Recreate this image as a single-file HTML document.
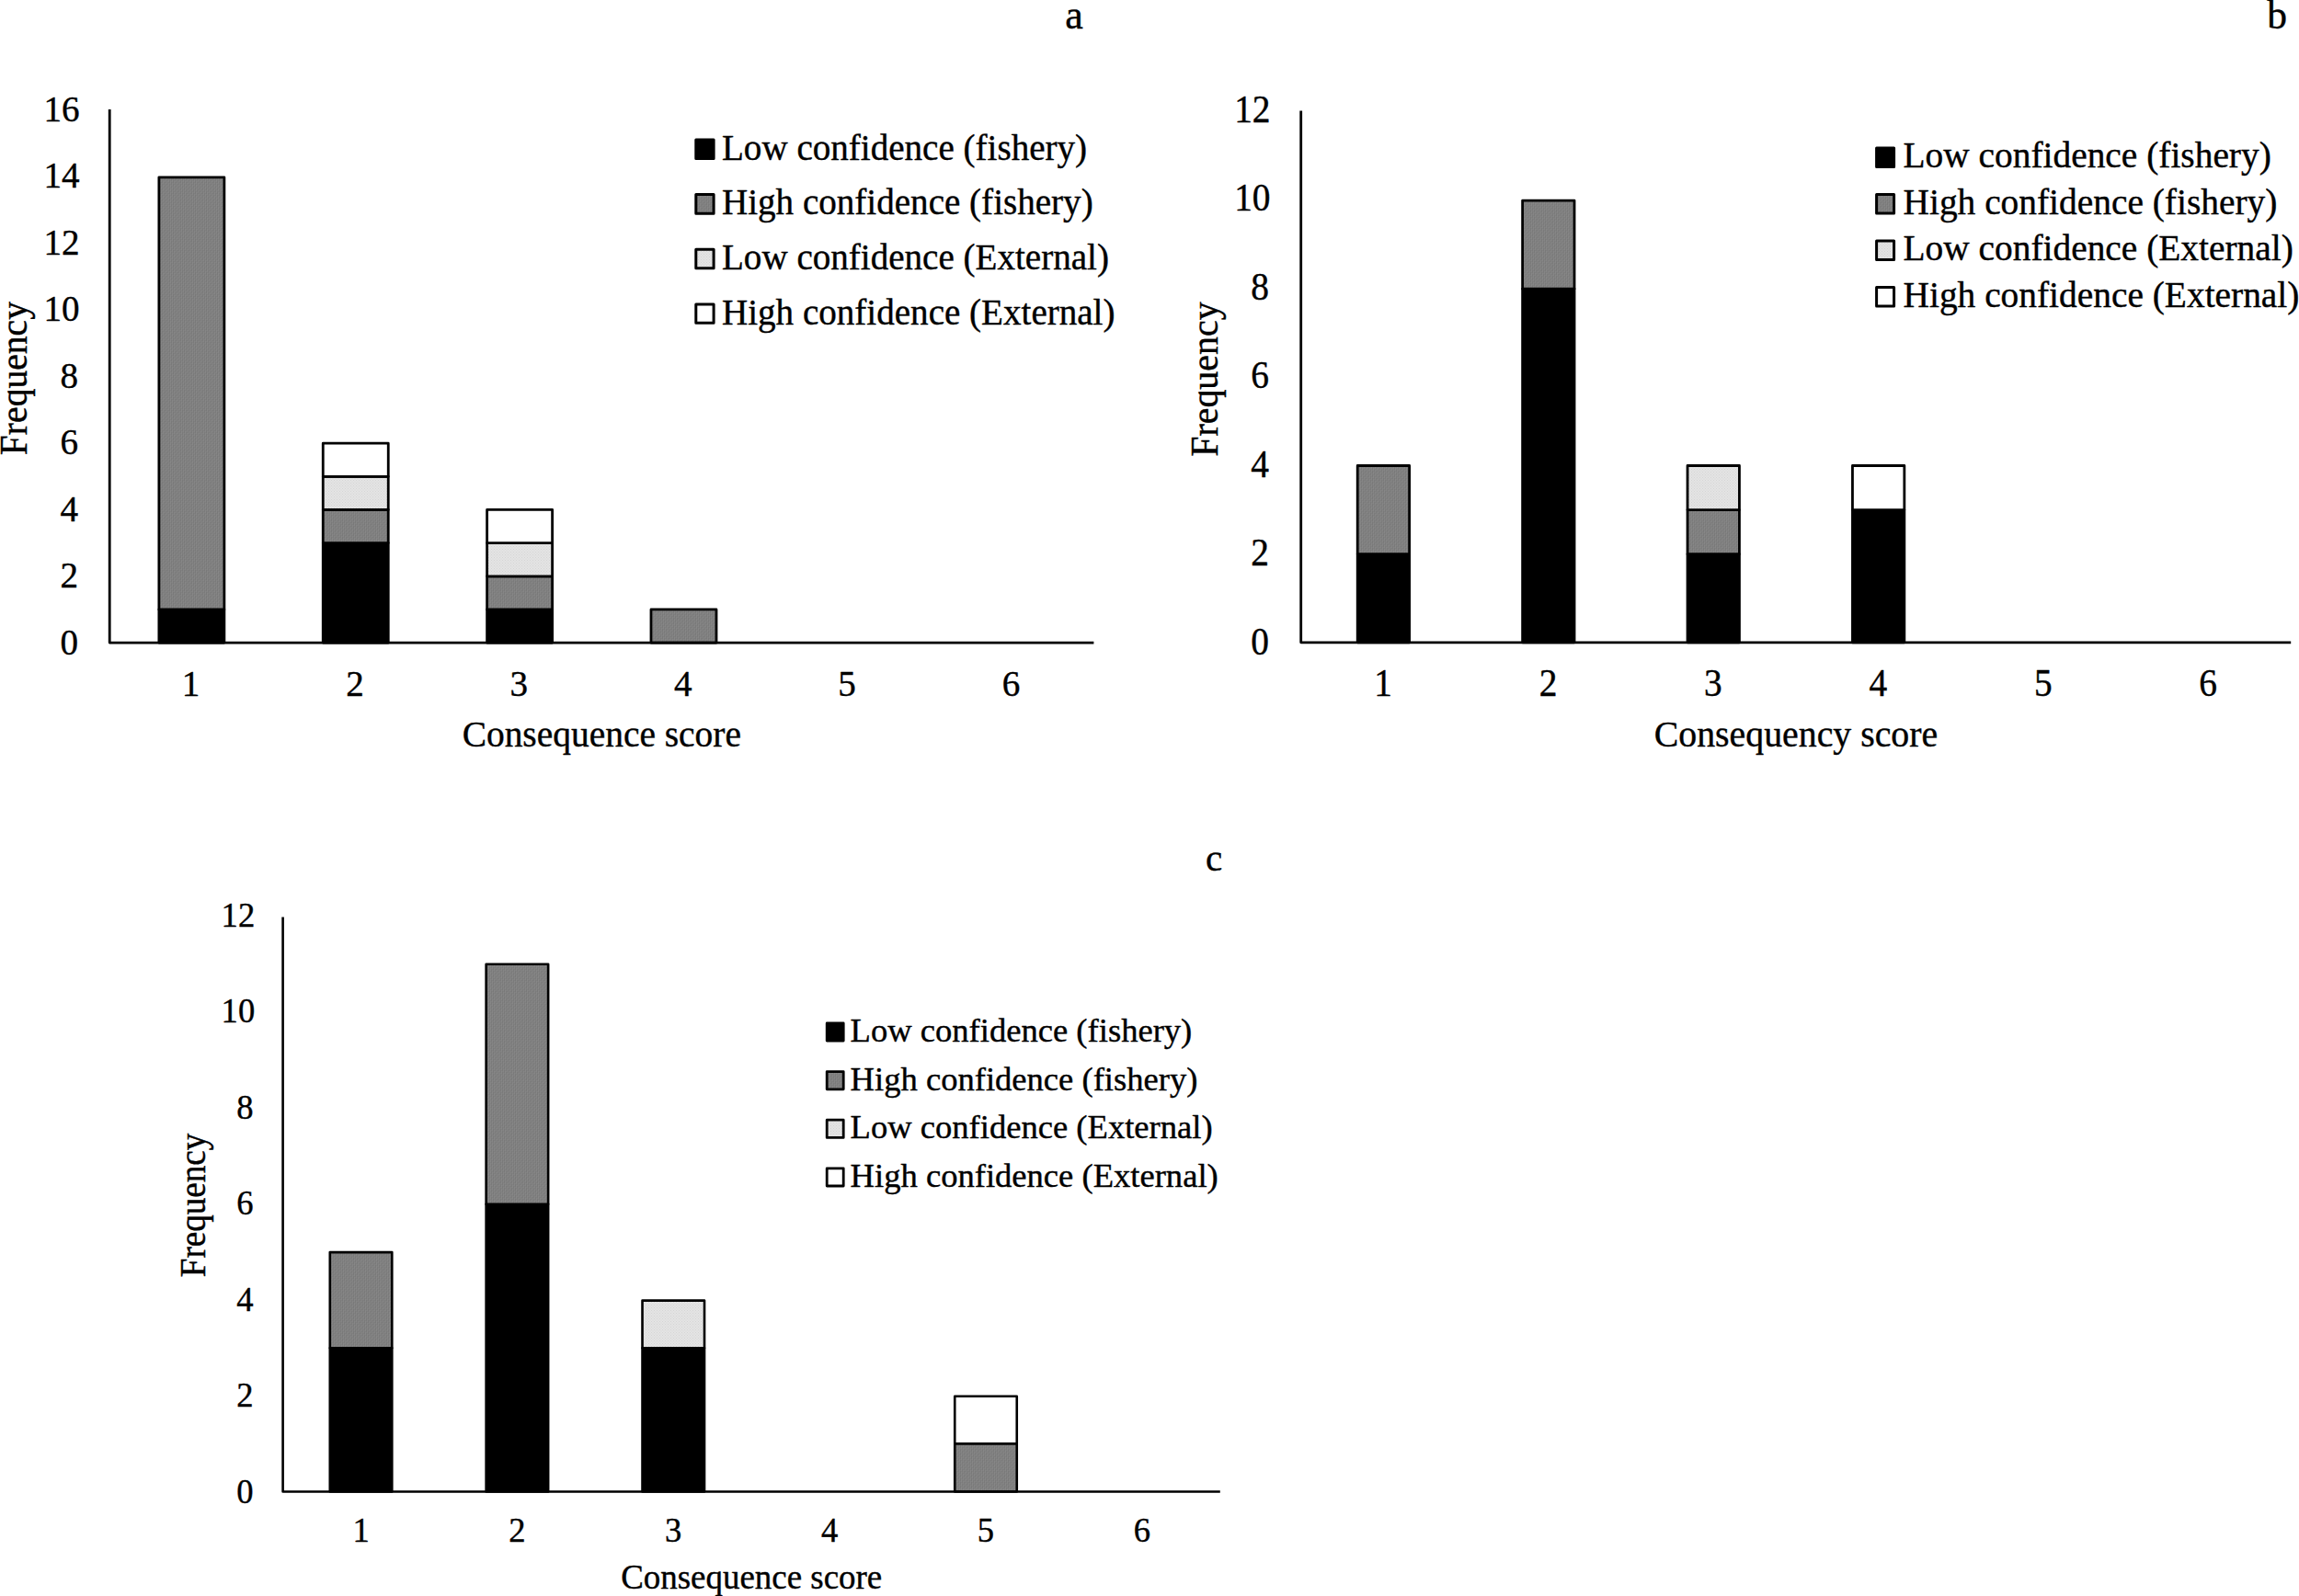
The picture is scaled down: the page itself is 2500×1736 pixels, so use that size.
<!DOCTYPE html>
<html lang="en">
<head>
<meta charset="utf-8">
<title>Consequence score frequency charts</title>
<style>
html,body{margin:0;padding:0;background:#fff;}
body{width:2500px;height:1736px;overflow:hidden;}
svg{display:block;font-family:"Liberation Serif","Times New Roman",Times,serif;fill:#000;}
text{stroke:#000;stroke-width:0.4px;stroke-linejoin:round;}
</style>
</head>
<body>
<svg width="2500" height="1736" viewBox="0 0 2500 1736">
<rect width="2500" height="1736" fill="#fff" stroke="none"/>
<defs>
<pattern id="pg" width="4" height="4" patternUnits="userSpaceOnUse">
<rect width="4" height="4" fill="#808080"/>
<rect x="0" y="0" width="1" height="3" fill="#797979"/>
<rect x="1" y="1" width="1" height="3" fill="#878787"/>
<rect x="2" y="2" width="1" height="2" fill="#7a7a7a"/>
<rect x="2" y="0" width="1" height="1" fill="#7a7a7a"/>
<rect x="3" y="0" width="1" height="2" fill="#868686"/>
<rect x="3" y="3" width="1" height="1" fill="#868686"/>
</pattern>
<pattern id="pl" width="3" height="3" patternUnits="userSpaceOnUse">
<rect width="3" height="3" fill="#e4e4e4"/>
<rect x="0" y="0" width="1" height="1" fill="#d5d5d5"/>
<rect x="1.5" y="1.5" width="1" height="1" fill="#d5d5d5"/>
</pattern>
</defs>
<g font-size="39.1">
<rect x="172.883" y="662.94" width="71" height="36.16" fill="#000000" stroke="#000" stroke-width="2.8" stroke-linejoin="round"/>
<rect x="172.883" y="192.86" width="71" height="470.08" fill="url(#pg)" stroke="#000" stroke-width="2.8" stroke-linejoin="round"/>
<rect x="351.25" y="590.62" width="71" height="108.48" fill="#000000" stroke="#000" stroke-width="2.8" stroke-linejoin="round"/>
<rect x="351.25" y="554.46" width="71" height="36.16" fill="url(#pg)" stroke="#000" stroke-width="2.8" stroke-linejoin="round"/>
<rect x="351.25" y="518.3" width="71" height="36.16" fill="url(#pl)" stroke="#000" stroke-width="2.8" stroke-linejoin="round"/>
<rect x="351.25" y="482.14" width="71" height="36.16" fill="#ffffff" stroke="#000" stroke-width="2.8" stroke-linejoin="round"/>
<rect x="529.617" y="662.94" width="71" height="36.16" fill="#000000" stroke="#000" stroke-width="2.8" stroke-linejoin="round"/>
<rect x="529.617" y="626.78" width="71" height="36.16" fill="url(#pg)" stroke="#000" stroke-width="2.8" stroke-linejoin="round"/>
<rect x="529.617" y="590.62" width="71" height="36.16" fill="url(#pl)" stroke="#000" stroke-width="2.8" stroke-linejoin="round"/>
<rect x="529.617" y="554.46" width="71" height="36.16" fill="#ffffff" stroke="#000" stroke-width="2.8" stroke-linejoin="round"/>
<rect x="707.983" y="662.94" width="71" height="36.16" fill="url(#pg)" stroke="#000" stroke-width="2.8" stroke-linejoin="round"/>
<path d="M119.2 119V699.1H1189.4" fill="none" stroke="#000" stroke-width="2.8" stroke-linejoin="round"/>
<text transform="translate(85.05 711.75) scale(1 1.045)" text-anchor="end">0</text>
<text transform="translate(85.05 639.25) scale(1 1.045)" text-anchor="end">2</text>
<text transform="translate(85.05 566.75) scale(1 1.045)" text-anchor="end">4</text>
<text transform="translate(85.05 494.25) scale(1 1.045)" text-anchor="end">6</text>
<text transform="translate(85.05 421.75) scale(1 1.045)" text-anchor="end">8</text>
<text transform="translate(86.55 349.25) scale(1 1.045)" text-anchor="end">10</text>
<text transform="translate(86.55 276.75) scale(1 1.045)" text-anchor="end">12</text>
<text transform="translate(86.55 204.25) scale(1 1.045)" text-anchor="end">14</text>
<text transform="translate(86.55 131.75) scale(1 1.045)" text-anchor="end">16</text>
<text transform="translate(207.583 756.8) scale(1 1.045)" text-anchor="middle">1</text>
<text transform="translate(385.95 756.8) scale(1 1.045)" text-anchor="middle">2</text>
<text transform="translate(564.317 756.8) scale(1 1.045)" text-anchor="middle">3</text>
<text transform="translate(742.683 756.8) scale(1 1.045)" text-anchor="middle">4</text>
<text transform="translate(921.05 756.8) scale(1 1.045)" text-anchor="middle">5</text>
<text transform="translate(1099.417 756.8) scale(1 1.045)" text-anchor="middle">6</text>
<text x="654.3" y="811.6" font-size="39.45" text-anchor="middle">Consequence score</text>
<text transform="translate(28.7 411.6) rotate(-90) scale(1.013 1.055)" text-anchor="middle">Frequency</text>
<rect x="756.8" y="151.9" width="19.3" height="20.7" fill="#000000" stroke="#000" stroke-width="3" stroke-linejoin="round"/>
<text x="785" y="173.5">Low confidence (fishery)</text>
<rect x="756.8" y="211.5" width="19.3" height="20.7" fill="url(#pg)" stroke="#000" stroke-width="3" stroke-linejoin="round"/>
<text x="785" y="233">High confidence (fishery)</text>
<rect x="756.8" y="271.3" width="19.3" height="20.4" fill="url(#pl)" stroke="#000" stroke-width="3" stroke-linejoin="round"/>
<text x="785" y="293">Low confidence (External)</text>
<rect x="756.8" y="330.9" width="19.3" height="20.4" fill="#ffffff" stroke="#000" stroke-width="3" stroke-linejoin="round"/>
<text x="785" y="352.5">High confidence (External)</text>
</g>
<text x="1158.2" y="31.3" font-size="44">a</text>
<g font-size="39.4">
<rect x="1476.208" y="602.66" width="56.4" height="96.14" fill="#000000" stroke="#000" stroke-width="2.8" stroke-linejoin="round"/>
<rect x="1476.208" y="506.52" width="56.4" height="96.14" fill="url(#pg)" stroke="#000" stroke-width="2.8" stroke-linejoin="round"/>
<rect x="1655.625" y="314.24" width="56.4" height="384.56" fill="#000000" stroke="#000" stroke-width="2.8" stroke-linejoin="round"/>
<rect x="1655.625" y="218.1" width="56.4" height="96.14" fill="url(#pg)" stroke="#000" stroke-width="2.8" stroke-linejoin="round"/>
<rect x="1835.042" y="602.66" width="56.4" height="96.14" fill="#000000" stroke="#000" stroke-width="2.8" stroke-linejoin="round"/>
<rect x="1835.042" y="554.59" width="56.4" height="48.07" fill="url(#pg)" stroke="#000" stroke-width="2.8" stroke-linejoin="round"/>
<rect x="1835.042" y="506.52" width="56.4" height="48.07" fill="url(#pl)" stroke="#000" stroke-width="2.8" stroke-linejoin="round"/>
<rect x="2014.458" y="554.59" width="56.4" height="144.21" fill="#000000" stroke="#000" stroke-width="2.8" stroke-linejoin="round"/>
<rect x="2014.458" y="506.52" width="56.4" height="48.07" fill="#ffffff" stroke="#000" stroke-width="2.8" stroke-linejoin="round"/>
<path d="M1414.7 120.4V698.8H2491.2" fill="none" stroke="#000" stroke-width="2.8" stroke-linejoin="round"/>
<text transform="translate(1380.05 711.75) scale(1 1.045)" text-anchor="end">0</text>
<text transform="translate(1380.05 615.25) scale(1 1.045)" text-anchor="end">2</text>
<text transform="translate(1380.05 518.75) scale(1 1.045)" text-anchor="end">4</text>
<text transform="translate(1380.05 422.25) scale(1 1.045)" text-anchor="end">6</text>
<text transform="translate(1380.05 325.75) scale(1 1.045)" text-anchor="end">8</text>
<text transform="translate(1381.55 229.25) scale(1 1.045)" text-anchor="end">10</text>
<text transform="translate(1381.55 132.75) scale(1 1.045)" text-anchor="end">12</text>
<text transform="translate(1504.108 756.8) scale(1 1.045)" text-anchor="middle">1</text>
<text transform="translate(1683.525 756.8) scale(1 1.045)" text-anchor="middle">2</text>
<text transform="translate(1862.942 756.8) scale(1 1.045)" text-anchor="middle">3</text>
<text transform="translate(2042.358 756.8) scale(1 1.045)" text-anchor="middle">4</text>
<text transform="translate(2221.775 756.8) scale(1 1.045)" text-anchor="middle">5</text>
<text transform="translate(2401.192 756.8) scale(1 1.045)" text-anchor="middle">6</text>
<text x="1952.95" y="811.9" font-size="39.85" text-anchor="middle">Consequency score</text>
<text transform="translate(1324.1 412.6) rotate(-90) scale(1.013 1.055)" text-anchor="middle">Frequency</text>
<rect x="2040.6" y="161" width="19" height="20.6" fill="#000000" stroke="#000" stroke-width="3" stroke-linejoin="round"/>
<text x="2069.5" y="182.4">Low confidence (fishery)</text>
<rect x="2040.6" y="211.5" width="19" height="20.6" fill="url(#pg)" stroke="#000" stroke-width="3" stroke-linejoin="round"/>
<text x="2069.5" y="233">High confidence (fishery)</text>
<rect x="2040.6" y="262" width="19" height="20.6" fill="url(#pl)" stroke="#000" stroke-width="3" stroke-linejoin="round"/>
<text x="2069.5" y="283.4">Low confidence (External)</text>
<rect x="2040.6" y="312.5" width="19" height="20.6" fill="#ffffff" stroke="#000" stroke-width="3" stroke-linejoin="round"/>
<text x="2069.5" y="333.9">High confidence (External)</text>
</g>
<text x="2465.3" y="30.6" font-size="43.5">b</text>
<g font-size="36.6">
<rect x="358.783" y="1466.2" width="67.5" height="156.3" fill="#000000" stroke="#000" stroke-width="2.6" stroke-linejoin="round"/>
<rect x="358.783" y="1362.1" width="67.5" height="104.1" fill="url(#pg)" stroke="#000" stroke-width="2.6" stroke-linejoin="round"/>
<rect x="528.65" y="1309.8" width="67.5" height="312.7" fill="#000000" stroke="#000" stroke-width="2.6" stroke-linejoin="round"/>
<rect x="528.65" y="1048.7" width="67.5" height="261.1" fill="url(#pg)" stroke="#000" stroke-width="2.6" stroke-linejoin="round"/>
<rect x="698.517" y="1466.2" width="67.5" height="156.3" fill="#000000" stroke="#000" stroke-width="2.6" stroke-linejoin="round"/>
<rect x="698.517" y="1414.6" width="67.5" height="51.6" fill="url(#pl)" stroke="#000" stroke-width="2.6" stroke-linejoin="round"/>
<rect x="1038.25" y="1570.2" width="67.5" height="52.3" fill="url(#pg)" stroke="#000" stroke-width="2.6" stroke-linejoin="round"/>
<rect x="1038.25" y="1518.8" width="67.5" height="51.4" fill="#ffffff" stroke="#000" stroke-width="2.6" stroke-linejoin="round"/>
<path d="M307.6 997.4V1622.5H1326.8" fill="none" stroke="#000" stroke-width="2.6" stroke-linejoin="round"/>
<text transform="translate(275.67 1634.8) scale(1 1.045)" text-anchor="end">0</text>
<text transform="translate(275.67 1530.28) scale(1 1.045)" text-anchor="end">2</text>
<text transform="translate(275.67 1425.76) scale(1 1.045)" text-anchor="end">4</text>
<text transform="translate(275.67 1321.24) scale(1 1.045)" text-anchor="end">6</text>
<text transform="translate(275.67 1216.72) scale(1 1.045)" text-anchor="end">8</text>
<text transform="translate(277.17 1112.2) scale(1 1.045)" text-anchor="end">10</text>
<text transform="translate(277.17 1007.68) scale(1 1.045)" text-anchor="end">12</text>
<text transform="translate(392.533 1677) scale(1 1.045)" text-anchor="middle">1</text>
<text transform="translate(562.4 1677) scale(1 1.045)" text-anchor="middle">2</text>
<text transform="translate(732.267 1677) scale(1 1.045)" text-anchor="middle">3</text>
<text transform="translate(902.133 1677) scale(1 1.045)" text-anchor="middle">4</text>
<text transform="translate(1072 1677) scale(1 1.045)" text-anchor="middle">5</text>
<text transform="translate(1241.867 1677) scale(1 1.045)" text-anchor="middle">6</text>
<text x="817.2" y="1727.8" font-size="36.95" text-anchor="middle">Consequence score</text>
<text transform="translate(223.05 1311) rotate(-90) scale(1.013 1.068)" text-anchor="middle">Frequency</text>
<rect x="899.2" y="1113" width="18" height="19.1" fill="#000000" stroke="#000" stroke-width="2.8" stroke-linejoin="round"/>
<text x="924.6" y="1132.9">Low confidence (fishery)</text>
<rect x="899.2" y="1165.6" width="18" height="19.2" fill="url(#pg)" stroke="#000" stroke-width="2.8" stroke-linejoin="round"/>
<text x="924.6" y="1185.5">High confidence (fishery)</text>
<rect x="899.2" y="1218.2" width="18" height="19.2" fill="url(#pl)" stroke="#000" stroke-width="2.8" stroke-linejoin="round"/>
<text x="924.6" y="1238.2">Low confidence (External)</text>
<rect x="899.2" y="1270.8" width="18" height="19.2" fill="#ffffff" stroke="#000" stroke-width="2.8" stroke-linejoin="round"/>
<text x="924.6" y="1290.8">High confidence (External)</text>
</g>
<text x="1311" y="947.4" font-size="41">c</text>
</svg>
</body>
</html>
